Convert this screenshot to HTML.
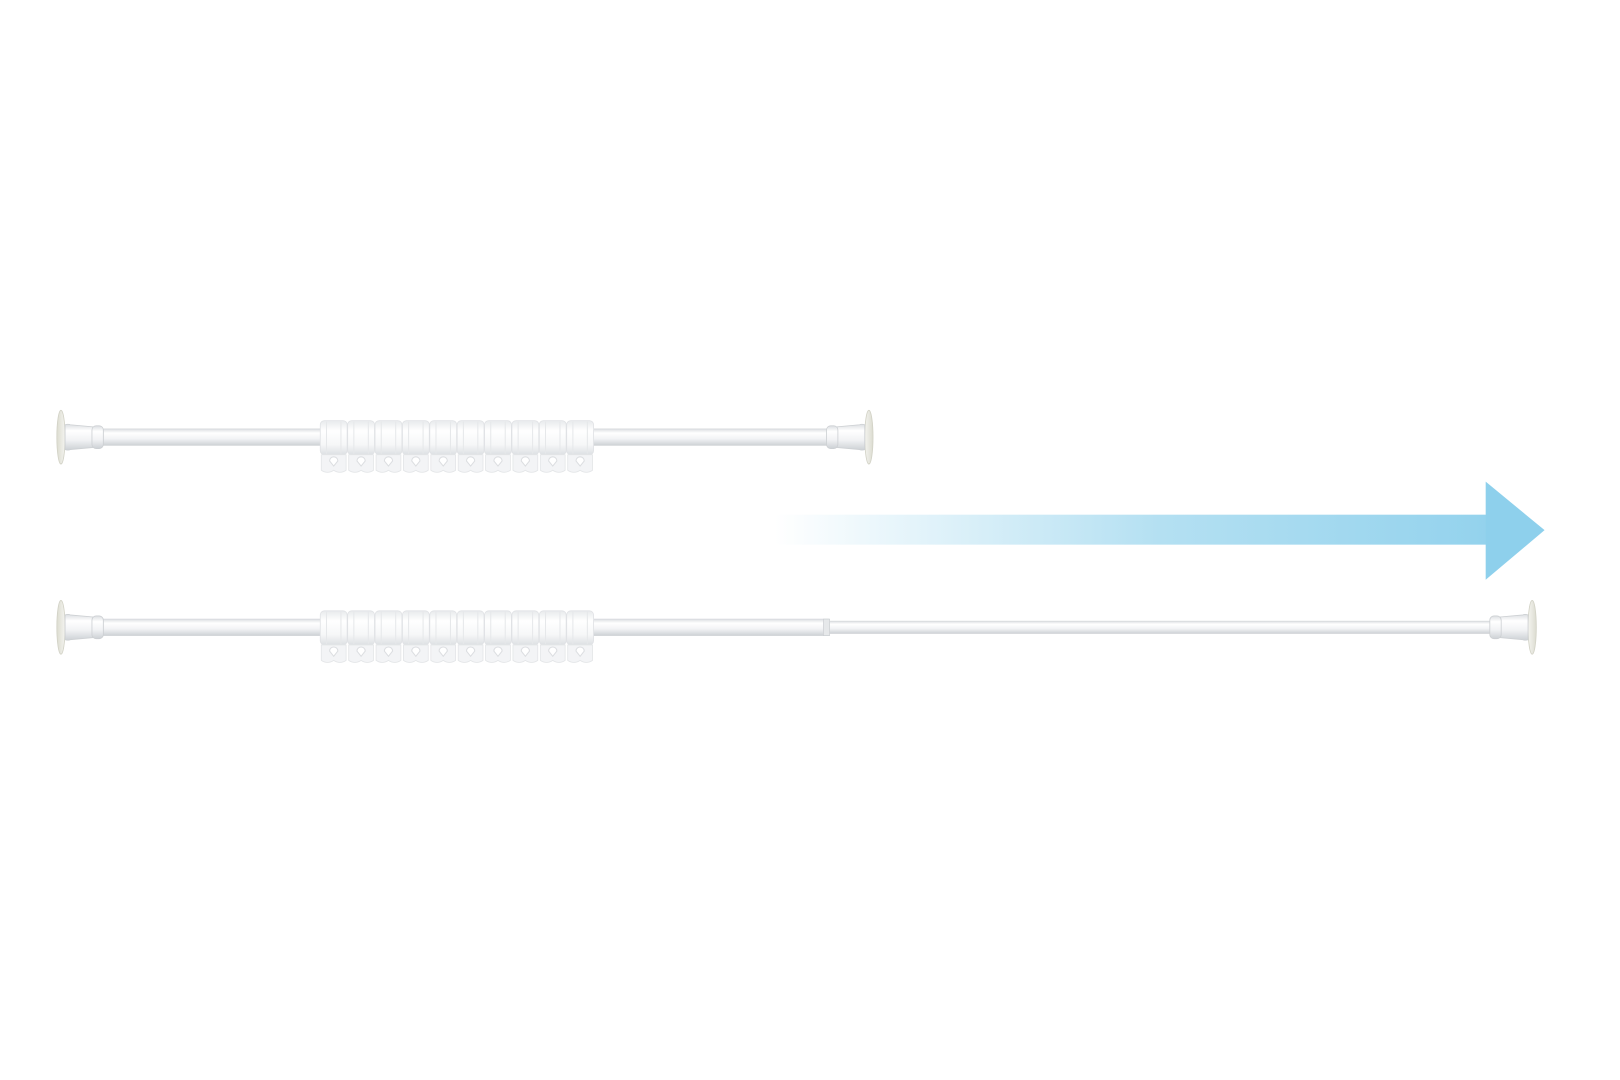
<!DOCTYPE html>
<html><head><style>html,body{margin:0;padding:0;background:#fff}svg{display:block}</style></head><body>
<svg width="1620" height="1080" viewBox="0 0 1568 1045" preserveAspectRatio="none" xmlns="http://www.w3.org/2000/svg">
<defs>
<linearGradient id="ar" x1="750" y1="0" x2="1495" y2="0" gradientUnits="userSpaceOnUse">
<stop offset="0" stop-color="#fff"/><stop offset="0.5" stop-color="#b4e0f2"/><stop offset="1" stop-color="#8ed0ec"/></linearGradient>
<linearGradient id="rod" x1="0" y1="0" x2="0" y2="1">
<stop offset="0" stop-color="#dcdfe2"/><stop offset="0.25" stop-color="#ffffff"/><stop offset="0.6" stop-color="#f2f3f5"/><stop offset="1" stop-color="#cdd1d5"/></linearGradient>
<linearGradient id="ring" x1="0" y1="0" x2="0" y2="1">
<stop offset="0" stop-color="#e8eaec"/><stop offset="0.3" stop-color="#ffffff"/><stop offset="0.7" stop-color="#f6f7f8"/><stop offset="1" stop-color="#dde0e3"/></linearGradient>
<linearGradient id="cup" x1="0" y1="0" x2="1" y2="0"><stop offset="0" stop-color="#dcdcd0"/><stop offset="1" stop-color="#f4f4f0"/></linearGradient>
<g id="rings">
<g id="r1">
<rect x="0" y="-16" width="26" height="33" rx="4" fill="url(#ring)" stroke="#e0e2e5" stroke-width="0.8"/>
<line x1="6" y1="-15" x2="6" y2="16" stroke="#e6e8ea"/><line x1="20" y1="-15" x2="20" y2="16" stroke="#e6e8ea"/>
<path d="M1 17 H25 V32 Q19 36 13 32 Q7 36 1 32 Z" fill="#f3f4f6" stroke="#e4e6e8" stroke-width="0.8"/>
<path d="M9 23 a4 4 0 1 1 8 0 L13 28 Z" fill="#fff" stroke="#dcdee1"/>
</g>
<use href="#r1" x="26.5"/><use href="#r1" x="53"/><use href="#r1" x="79.5"/><use href="#r1" x="106"/>
<use href="#r1" x="132.5"/><use href="#r1" x="159"/><use href="#r1" x="185.5"/><use href="#r1" x="212"/><use href="#r1" x="238.5"/>
</g>
<g id="lcap">
<ellipse cx="59" cy="0" rx="4" ry="26" fill="url(#cup)" stroke="#d2d2c6" stroke-width="0.8"/>
<path d="M63 -12 Q66 -13 68 -12 L90 -10 V10 L68 12 Q66 13 63 12 Z" fill="url(#rod)" stroke="#cdd0d3" stroke-width="0.8"/>
<rect x="89" y="-11" width="11" height="22" rx="4" fill="url(#rod)" stroke="#cdd0d3" stroke-width="0.8"/>
</g>
</defs>
<!-- arrow -->
<rect x="750" y="498" width="690" height="29" fill="url(#ar)"/>
<polygon points="1438,466 1495,513 1438,561" fill="#8ed0ec"/>
<!-- rod 1 -->
<g transform="translate(0,423)">
<rect x="100" y="-8" width="702" height="16" fill="url(#rod)" stroke="#d2d5d8" stroke-width="0.6"/>
<use href="#lcap"/>
<g transform="translate(900,0) scale(-1,1)"><use href="#lcap"/></g>
<g transform="translate(310,0)"><use href="#rings"/></g>
</g>
<!-- rod 2 -->
<g transform="translate(0,607)">
<rect x="100" y="-8" width="702" height="16" fill="url(#rod)" stroke="#d2d5d8" stroke-width="0.6"/>
<rect x="800" y="-6" width="645" height="12" fill="url(#rod)" stroke="#d2d5d8" stroke-width="0.6"/>
<rect x="797" y="-8" width="6" height="16" fill="#e6e8ea" stroke="#c9ccd0" stroke-width="0.6"/>
<use href="#lcap"/>
<g transform="translate(1542,0) scale(-1,1)"><use href="#lcap"/></g>
<g transform="translate(310,0)"><use href="#rings"/></g>
</g>
</svg>
</body></html>
